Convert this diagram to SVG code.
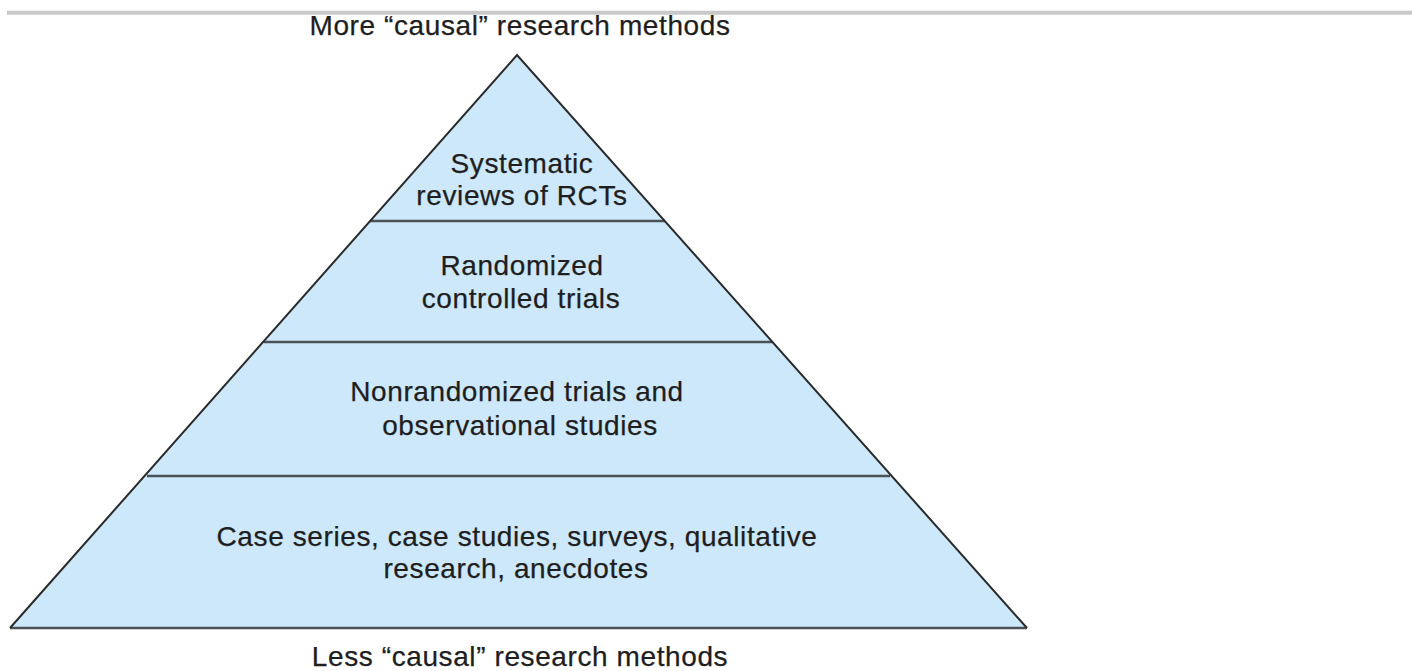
<svg xmlns="http://www.w3.org/2000/svg" width="1412" height="671" viewBox="0 0 1412 671">
<style>
.t{font-family:"Liberation Sans",Arial,sans-serif;font-size:28px;letter-spacing:0.6px;fill:#1e1e1e;stroke:#1e1e1e;stroke-width:0.25;text-anchor:middle}
.tier{fill:#cce8fa;stroke:none}
.div{stroke:#4a5258;stroke-width:2.4;fill:none}
</style>
<rect width="1412" height="671" fill="#fff"/>
<line x1="7" y1="12.8" x2="1412" y2="12.8" stroke="#c8c8c8" stroke-width="4"/>
<text class="t" x="520" y="35">More “causal” research methods</text>
<g id="pyramid">
<polygon class="tier" points="517,55 10,628 1027,628"/>
</g>
<g id="tier1"><text class="t" x="522" y="173">Systematic</text><text class="t" x="522" y="205">reviews of RCTs</text></g>
<g id="tier2"><text class="t" x="522" y="275">Randomized</text><text class="t" x="521" y="308">controlled trials</text></g>
<g id="tier3"><text class="t" x="517" y="401">Nonrandomized trials and</text><text class="t" x="520" y="435">observational studies</text></g>
<g id="tier4"><text class="t" x="517" y="546">Case series, case studies, surveys, qualitative</text><text class="t" x="516" y="578">research, anecdotes</text></g>
<g id="connectors">
<line class="div" x1="370" y1="221" x2="665" y2="221"/>
<line class="div" x1="264" y1="342" x2="772" y2="342"/>
<line class="div" x1="147" y1="476" x2="890" y2="476"/>
<line class="div" x1="10" y1="628" x2="1027" y2="628"/>
<polyline points="10,628 517,55 1027,628" fill="none" stroke="#2a2a2a" stroke-width="2" stroke-linejoin="miter"/>
</g>
<text class="t" x="520" y="666">Less “causal” research methods</text>
</svg>
